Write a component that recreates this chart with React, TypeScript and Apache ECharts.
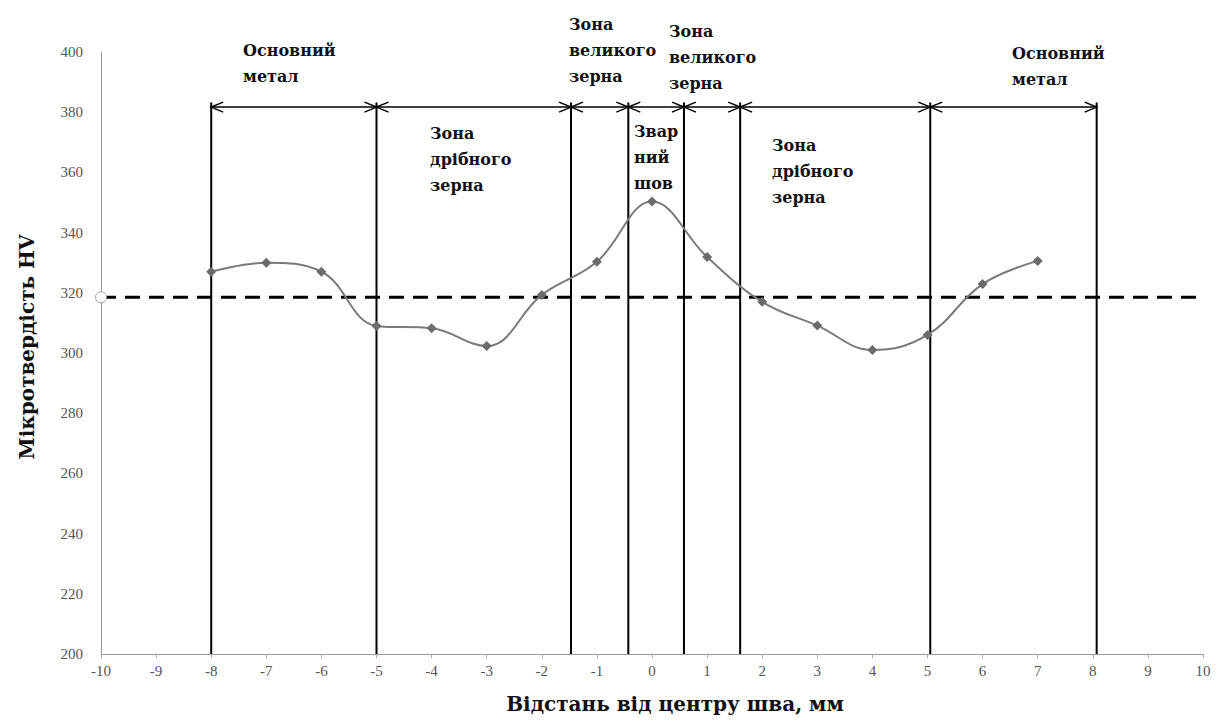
import React, { useEffect, useRef } from "react";
import * as echarts from "echarts";

// ---- data ----
const distances = [-8, -7, -6, -5, -4, -3, -2, -1, 0, 1, 2, 3, 4, 5, 6, 7];
const hardness = [327, 330, 327, 309, 308.2, 302.3, 319.3, 330.3, 350.3, 331.9, 317, 309.1, 301, 306, 322.9, 330.6];
const baseHardness = 318.5;
const zoneBoundaries = [-8, -5, -1.47, -0.43, 0.58, 1.6, 5.05, 8.07];
const zoneLabels = [
  "Основний\nметал",
  "Зона\nдрібного\nзерна",
  "Зона\nвеликого\nзерна",
  "Звар\nний\nшов",
  "Зона\nвеликого\nзерна",
  "Зона\nдрібного\nзерна",
  "Основний\nметал",
];
const yTicks = { min: 200, max: 400, step: 20 };
const xTicks = { min: -10, max: 10, step: 1 };
const xAxisTitle = "Відстань від центру шва, мм";
const yAxisTitle = "Мікротвердість HV";

// ---- layout (pixels) ----
const labelPos = [
  [243, 37],
  [430, 120],
  [569, 11],
  [634, 118],
  [669, 18],
  [772, 132],
  [1012, 40],
];

const SERIF = "'Liberation Serif', 'Times New Roman', serif";
const TITLE_SERIF = "'DejaVu Serif', serif";

export default function App() {
  const ref = useRef<HTMLDivElement>(null);
  useEffect(() => {
    if (!ref.current) return;
    const chart = echarts.init(ref.current, undefined, { renderer: "svg" });
    const ARROW_Y = 381.7;
    const LINE_TOP = 383.2;
    const segments = zoneBoundaries.slice(1).map((b, i) => [zoneBoundaries[i], b, ARROW_Y]);
    const verticals = zoneBoundaries.map((b) => [b, yTicks.min, LINE_TOP]);

    const option: any = {
      animation: false,
      backgroundColor: "#fff",
      grid: { left: 101, right: 19, top: 52, bottom: 71, containLabel: false },
      xAxis: {
        type: "value",
        min: xTicks.min,
        max: xTicks.max,
        interval: xTicks.step,
        name: xAxisTitle,
        nameLocation: "middle",
        nameGap: 40,
        nameTextStyle: { fontFamily: TITLE_SERIF, fontWeight: "bold", fontSize: 20, color: "#111", padding: [0, 0, 0, 46] },
        axisLine: { show: true, onZero: false, lineStyle: { color: "#999", width: 1 } },
        axisTick: { show: true, length: 4, lineStyle: { color: "#aaa" } },
        axisLabel: { fontFamily: SERIF, fontSize: 15, color: "#555", margin: 9 },
        splitLine: { show: false },
      },
      yAxis: {
        type: "value",
        min: yTicks.min,
        max: yTicks.max,
        interval: yTicks.step,
        name: yAxisTitle,
        nameLocation: "middle",
        nameGap: 64,
        nameTextStyle: { fontFamily: TITLE_SERIF, fontWeight: "bold", fontSize: 20, color: "#111", padding: [0, 0, 0, 12] },
        axisLine: { show: true, onZero: false, lineStyle: { color: "#999", width: 1 } },
        axisTick: { show: false },
        axisLabel: { fontFamily: SERIF, fontSize: 15, color: "#555", margin: 18 },
        splitLine: { show: false },
      },
      series: [
        {
          type: "custom",
          name: "boundaries",
          data: verticals,
          encode: { x: 0, y: [1, 2] },
          renderItem: (params: any, api: any) => {
            const a = api.coord([api.value(0), api.value(1)]);
            const b = api.coord([api.value(0), api.value(2)]);
            return {
              type: "line",
              shape: { x1: a[0], y1: a[1], x2: b[0], y2: b[1] },
              style: { stroke: "#000", lineWidth: 2 },
            };
          },
          z: 2,
        },
        {
          type: "custom",
          name: "arrows",
          data: segments,
          encode: { x: [0, 1], y: 2 },
          renderItem: (params: any, api: any) => {
            const a = api.coord([api.value(0), api.value(2)]);
            const b = api.coord([api.value(1), api.value(2)]);
            const L = 12;
            const H = 5;
            const st = { stroke: "#000", lineWidth: 1.5, fill: null };
            return {
              type: "group",
              children: [
                { type: "line", shape: { x1: a[0], y1: a[1], x2: b[0], y2: b[1] }, style: st },
                { type: "polyline", shape: { points: [[a[0] + L, a[1] - H], [a[0], a[1]], [a[0] + L, a[1] + H]] }, style: st },
                { type: "polyline", shape: { points: [[b[0] - L, b[1] - H], [b[0], b[1]], [b[0] - L, b[1] + H]] }, style: st },
              ],
            };
          },
          z: 2,
        },
        {
          type: "line",
          name: "base",
          clip: false,
          data: [
            { value: [xTicks.min, baseHardness], symbol: "circle", symbolSize: 11, itemStyle: { color: "#fff", borderColor: "#9aa8a0", borderWidth: 1 } },
            { value: [10.28, baseHardness], symbol: "none" },
          ],
          lineStyle: { color: "#000", width: 3, type: [15, 9] },
          z: 3,
        },
        {
          type: "line",
          name: "hardness",
          smooth: 0.4,
          data: distances.map((d, i) => [d, hardness[i]]),
          symbol: "diamond",
          symbolSize: 10,
          itemStyle: { color: "#6b6b6b" },
          lineStyle: { color: "#7a7a7a", width: 2 },
          z: 4,
        },
      ],
      graphic: zoneLabels.map((t, i) => ({
        type: "text",
        left: labelPos[i][0],
        top: labelPos[i][1],
        style: {
          text: t,
          font: `bold 16px ${TITLE_SERIF}`,
          fill: "#111",
          lineHeight: 26,
        },
        z: 10,
      })),
    };
    chart.setOption(option);
    return () => chart.dispose();
  }, []);
  return (
    <div
      ref={ref}
      style={{ position: "fixed", left: 0, top: 0, width: 1222, height: 725, background: "#fff" }}
    />
  );
}
